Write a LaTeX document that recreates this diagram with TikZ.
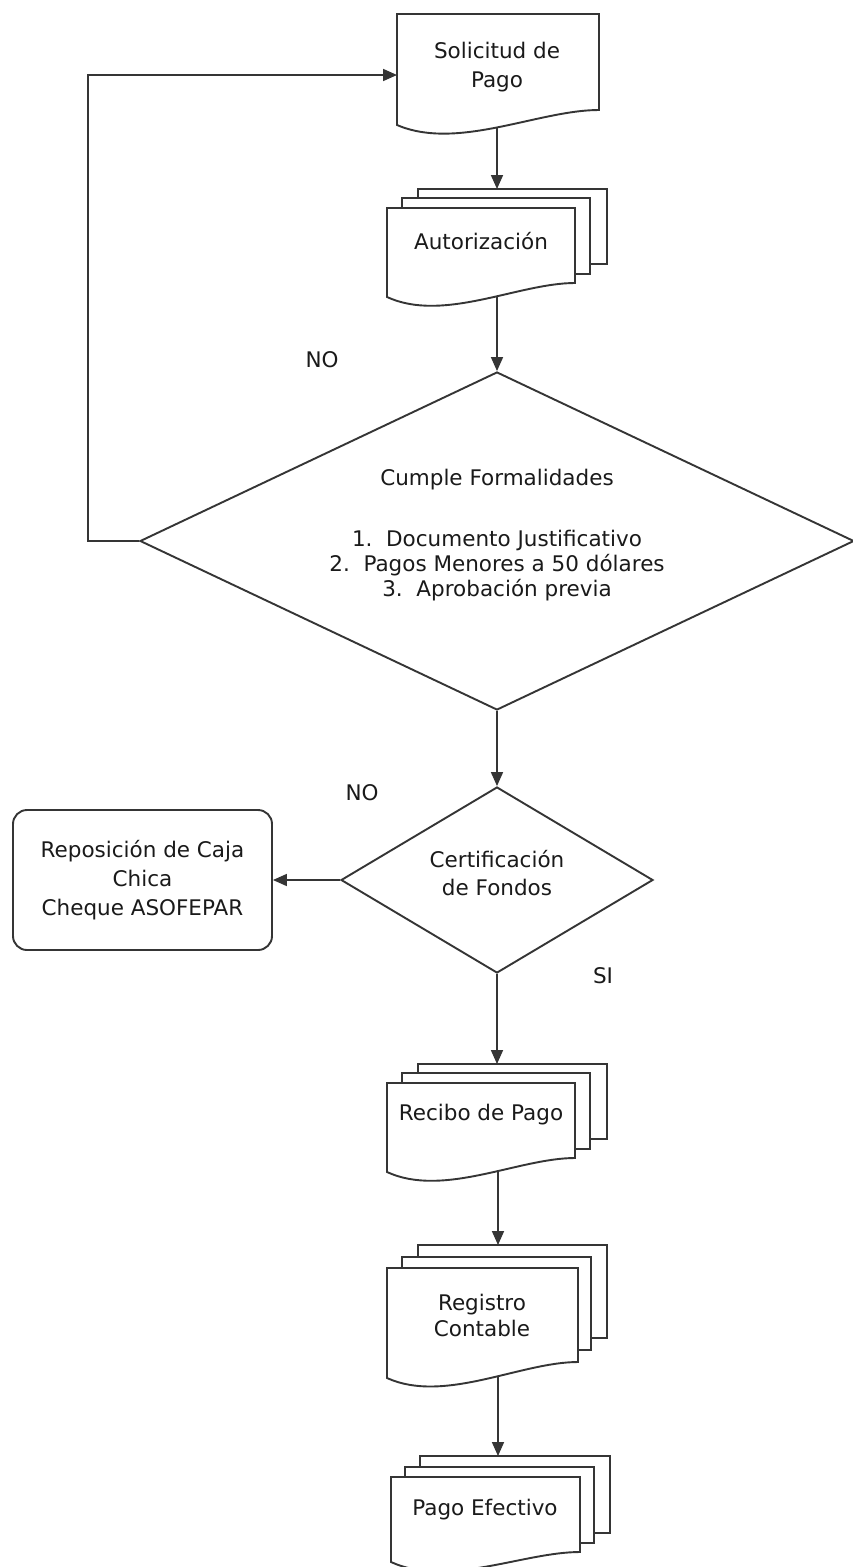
\documentclass[tikz,border=0pt]{standalone}
\usepackage{fontspec}
\setmainfont{DejaVu Sans}
\usetikzlibrary{arrows.meta,shapes.geometric}
\pgfdeclarelayer{backdrop}
\pgfdeclarelayer{links}
\pgfsetlayers{backdrop,links,main}

\definecolor{ink}{HTML}{353535}
\definecolor{txt}{HTML}{1A1A1A}

\tikzset{
  sheet/.style={draw=ink, fill=white, line width=1.9pt, line join=miter},
  flow/.style={draw=ink, line width=1.7pt, -{Triangle[length=14pt,width=12pt]}},
  lbl/.style={font=\fontsize{21.5}{25}\selectfont, text=txt, align=center, inner sep=0pt},
  decision/.style={diamond, draw=ink, fill=white, line width=1.9pt, inner sep=0pt},
}

% front page of a document symbol: left, top, right, right-bottom, left-bottom
\newcommand\frontsheet[5]{%
  \path[sheet] (#1,#2) -- (#3,#2) -- (#3,#4)
    .. controls ({#1+0.7*(#3-#1)},#4) and ({#1+0.3*(#3-#1)},{#5+26}) .. (#1,#5) -- cycle;}
% page lying behind in a stack
\newcommand\backsheet[4]{\path[sheet] (#1,#2) rectangle (#3,#4);}

\begin{document}
\begin{tikzpicture}[x=1pt,y=-1pt]
\useasboundingbox (0,0) rectangle (853,1567);
\begin{pgfonlayer}{backdrop}
  \fill[white] (0,0) rectangle (853,1567);
\end{pgfonlayer}

% Solicitud de Pago
\frontsheet{397}{14}{599}{110}{125}
\node[lbl, font=\fontsize{21.5}{29}\selectfont] (sol) at (497,67) {Solicitud de\\Pago};
\coordinate (solW) at (397,75);
\coordinate (solOut) at (497,105);

% Autorizacion
\backsheet{418}{189}{607}{264}
\backsheet{402}{198}{590}{274}
\frontsheet{387}{208}{575}{283}{297}
\node[lbl] (aut) at (481,241) {Autorización};
\coordinate (autIn) at (497,189);
\coordinate (autOut) at (497,270);

% first decision
\node[decision, minimum width=714pt, minimum height=338pt] (d1) at (497,541) {};
\node[lbl] (cumple) at (497,480) {Cumple Formalidades};
\node[lbl, font=\fontsize{21.5}{25}\selectfont] (items) at (497,566)
  {1.~~Documento Justificativo\\2.~~Pagos Menores a 50 dólares\\3.~~Aprobación previa};
\coordinate (loopC) at (88,541);

% second decision
\node[decision, minimum width=312pt, minimum height=186pt] (d2) at (497,880) {};
\node[lbl, font=\fontsize{21.5}{28}\selectfont] (cert) at (497,873) {Certificación\\de Fondos};

% Reposicion de Caja Chica
\node[lbl, font=\fontsize{21.5}{29}\selectfont, draw=ink, line width=1.9pt, rounded corners=14pt,
      minimum width=259pt, minimum height=140pt] (rep) at (142.5,880)
  {Reposición de Caja\\Chica\\Cheque ASOFEPAR};

% Recibo de Pago
\backsheet{418}{1064}{607}{1139}
\backsheet{402}{1073}{590}{1149}
\frontsheet{387}{1083}{575}{1158}{1172}
\node[lbl] (rec) at (481,1115) {Recibo de Pago};
\coordinate (recIn) at (497,1064);
\coordinate (recOut) at (498,1150);

% Registro Contable
\backsheet{418}{1245}{607}{1338}
\backsheet{402}{1257}{591}{1350}
\frontsheet{387}{1268}{578}{1362}{1378}
\node[lbl, font=\fontsize{21.5}{26}\selectfont] (reg) at (482,1315) {Registro\\Contable};
\coordinate (regIn) at (498,1245);
\coordinate (regOut) at (498,1350);

% Pago Efectivo
\backsheet{420}{1456}{610}{1533}
\backsheet{405}{1467}{594}{1543}
\frontsheet{391}{1477}{580}{1552}{1562}
\node[lbl] (pag) at (485,1510) {Pago Efectivo};
\coordinate (pagIn) at (498,1456);

% branch labels
\node[lbl] (no1) at (322,360) {NO};
\node[lbl] (no2) at (362,793) {NO};
\node[lbl] (si) at (603,976) {SI};

% connectors
\begin{pgfonlayer}{links}
  \draw[flow] (solOut) -- (autIn);
  \draw[flow] (autOut) -- (d1.north);
  \draw[flow] (d1.south) -- (d2.north);
  \draw[flow] (d2.west) -- (rep.east);
  \draw[flow] (d2.south) -- (recIn);
  \draw[flow] (recOut) -- (regIn);
  \draw[flow] (regOut) -- (pagIn);
  \draw[flow] (d1.west) -- (loopC) |- (solW);
\end{pgfonlayer}
\end{tikzpicture}
\end{document}
